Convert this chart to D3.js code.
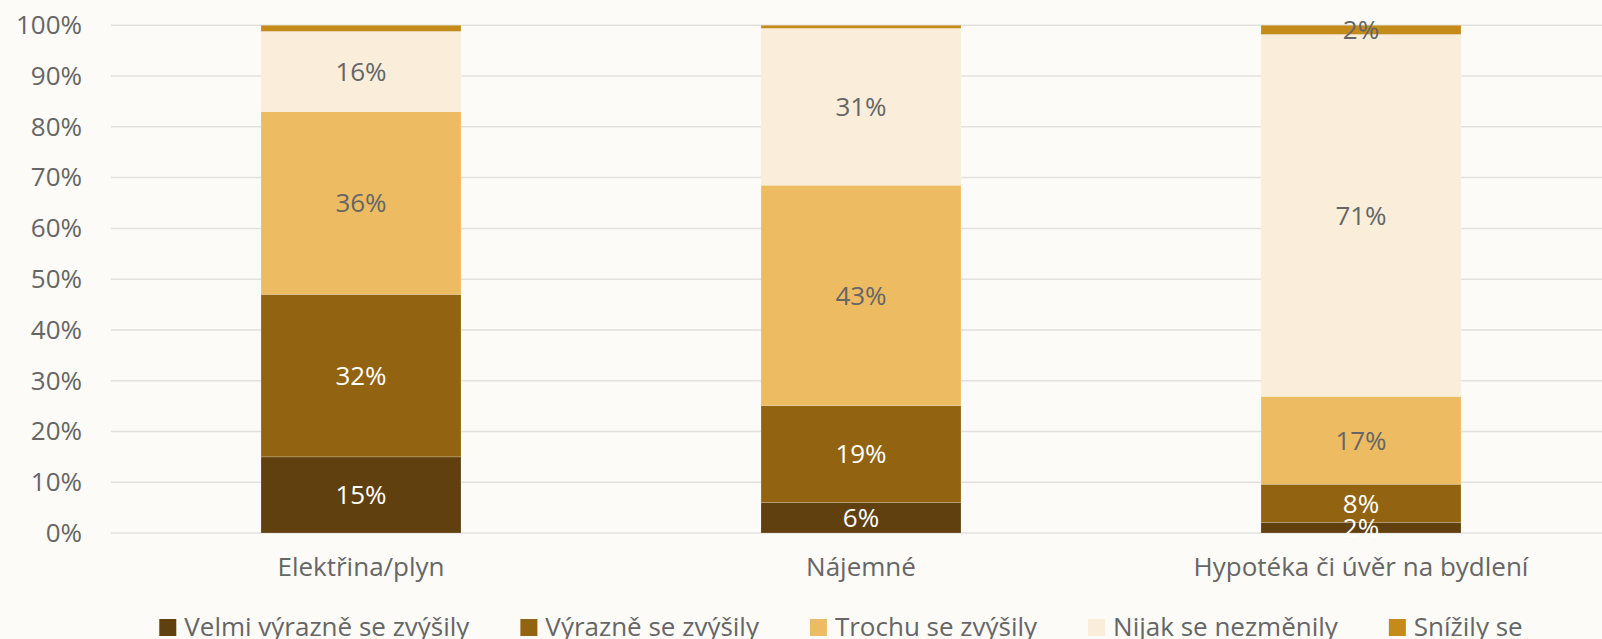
<!DOCTYPE html>
<html>
<head>
<meta charset="utf-8">
<script src="https://cdn.jsdelivr.net/npm/d3@7"></script>
<style>
  html, body { margin: 0; padding: 0; background: #fcfbf7; }
  svg { display: block; font-family: "Open Sans", sans-serif; }
</style>
</head>
<body>
<svg id="chart" width="1602" height="639"></svg>
<script>
// categories + series (share of respondents, %)
var categories = ["Elektřina/plyn", "Nájemné", "Hypotéka či úvěr na bydlení"];
var seriesNames = ["Velmi výrazně se zvýšily", "Výrazně se zvýšily", "Trochu se zvýšily", "Nijak se nezměnily", "Snížily se"];
var velmi   = [15.0, 6.0, 2.1];
var vyrazne = [32.0, 19.1, 7.5];
var trochu  = [36.0, 43.4, 17.3];
var nijak   = [15.8, 30.9, 71.3];
var snizily = [1.2, 0.6, 1.8];
var colors  = ["#5f400e", "#926311", "#edbc62", "#faeedb", "#c48a1a"];
var labelColors = ["#ffffff", "#ffffff", "#666666", "#666666", "#666666"];
var yTicks = [0, 10, 20, 30, 40, 50, 60, 70, 80, 90, 100];

var allSeries = [velmi, vyrazne, trochu, nijak, snizily];
var rows = categories.map(function(c, i) {
  var r = { cat: c };
  seriesNames.forEach(function(s, k) { r[s] = allSeries[k][i]; });
  return r;
});

var FS = "26px";
var svg = d3.select("#chart");
var m = { left: 111, right: 1611, top: 25.3, bottom: 533 };

var x = d3.scaleBand().domain(categories).range([m.left, m.right])
  .paddingInner(0.6).paddingOuter(0.3);
var y = d3.scaleLinear().domain([0, 100]).range([m.bottom, m.top]);

// gridlines
svg.append("g").selectAll("line").data(yTicks).join("line")
  .attr("x1", m.left).attr("x2", m.right)
  .attr("y1", function(d) { return y(d); }).attr("y2", function(d) { return y(d); })
  .attr("stroke", "#e2e1de").attr("stroke-width", 1.5);

// y axis labels
var yAxis = svg.append("g").attr("transform", "translate(" + (m.left - 12) + ",0)")
  .call(d3.axisLeft(y).tickValues(yTicks).tickSize(0).tickPadding(17)
    .tickFormat(function(d) { return d + "%"; }));
yAxis.select(".domain").remove();
yAxis.selectAll("text").attr("fill", "#666").style("font-size", FS)
  .style("font-family", "Open Sans, sans-serif");

var stack = d3.stack().keys(seriesNames)(rows);

var layers = svg.append("g").selectAll("g").data(stack).join("g")
  .attr("fill", function(d, i) { return colors[i]; });

layers.selectAll("rect").data(function(d) { return d; }).join("rect")
  .attr("x", function(d) { return x(d.data.cat); })
  .attr("width", x.bandwidth())
  .attr("y", function(d) { return y(d[1]); })
  .attr("height", function(d) { return y(d[0]) - y(d[1]); })
  .attr("stroke", "#fcfbf7").attr("stroke-opacity", 0.25).attr("stroke-width", 0.8);

// value labels
var lab = svg.append("g");
stack.forEach(function(layer, i) {
  lab.selectAll(null).data(layer.filter(function(d) { return d[1] - d[0] >= 1.5; })).join("text")
    .attr("x", function(d) { return x(d.data.cat) + x.bandwidth() / 2; })
    .attr("y", function(d) { return y((d[0] + d[1]) / 2); })
    .attr("dy", "0.36em")
    .attr("text-anchor", "middle")
    .attr("fill", labelColors[i])
    .style("font-size", FS)
    .text(function(d) { return Math.round(d[1] - d[0]) + "%"; });
});

// category axis
var xAxis = svg.append("g").attr("transform", "translate(0," + m.bottom + ")")
  .call(d3.axisBottom(x).tickSize(0).tickPadding(25));
xAxis.select(".domain").remove();
xAxis.selectAll("text").attr("fill", "#666").style("font-size", FS)
  .style("font-family", "Open Sans, sans-serif");

// legend
var legend = svg.append("g").attr("transform", "translate(0,627)");
var items = legend.selectAll("g").data(seriesNames).join("g");
items.append("rect").attr("width", 17).attr("height", 17).attr("y", -8)
  .attr("fill", function(d, i) { return colors[i]; });
items.append("text").attr("x", 25).attr("dy", "0.36em")
  .attr("fill", "#666").style("font-size", FS).text(function(d) { return d; });
var pos = 0, widths = [];
items.each(function() { widths.push(this.getBBox().width); });
var total = d3.sum(widths) + 50 * (widths.length - 1);
var start = 841 - total / 2;
items.attr("transform", function(d, i) {
  var t = "translate(" + (start + pos) + ",0)";
  pos += widths[i] + 50;
  return t;
});
</script>
</body>
</html>
